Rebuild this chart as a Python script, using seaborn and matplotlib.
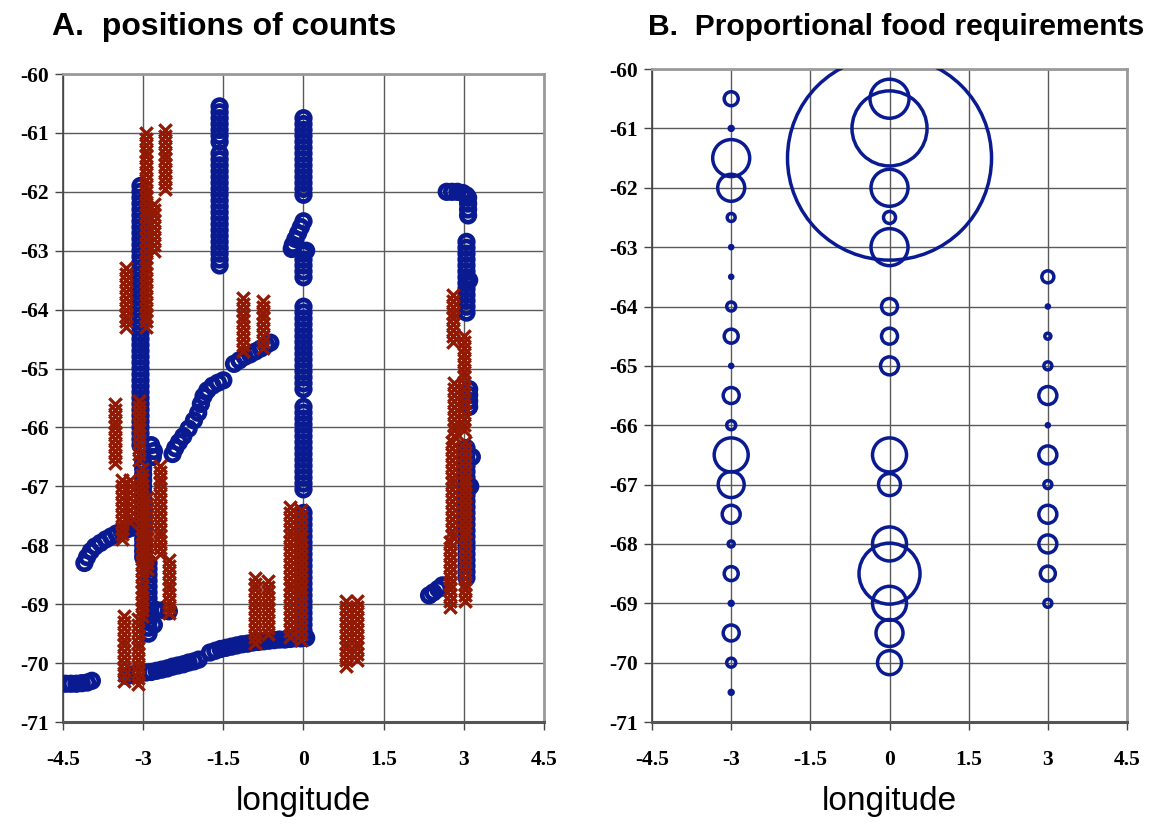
import matplotlib
matplotlib.use("Agg")
import matplotlib.pyplot as plt
import pandas as pd
import seaborn as sns

# ---------------- Panel A data: positions of counts ----------------
# blue open circles: vertical runs of the ship track (longitude, latitudes)
blue_col_lon = [-1.57, -1.57, 0.0, 0.0, 0.0, 0.0, 0.0, -3.05, -3.0, -2.9, 3.05, 3.1, 3.05, 3.08]
blue_col_lat = [
    [-60.55, -60.65, -60.75, -60.85, -60.95, -61.05, -61.15],
    [-61.35, -61.45, -61.55, -61.65, -61.75, -61.85, -61.95, -62.05, -62.15, -62.25, -62.35, -62.45,
     -62.55, -62.65, -62.75, -62.85, -62.95, -63.05, -63.15, -63.25],
    [-60.75, -60.85, -60.95, -61.05, -61.15, -61.25, -61.35, -61.45, -61.55, -61.65, -61.75, -61.85,
     -61.95, -62.05],
    [-63.05, -63.15, -63.25, -63.35, -63.45],
    [-63.95, -64.05, -64.15, -64.25, -64.35, -64.45, -64.55, -64.65, -64.75, -64.85, -64.95, -65.05,
     -65.15, -65.25, -65.35],
    [-65.65, -65.75, -65.85, -65.95, -66.05, -66.15, -66.25, -66.35, -66.45, -66.55, -66.65, -66.75,
     -66.85, -66.95, -67.05],
    [-67.45, -67.55, -67.65, -67.75, -67.85, -67.95, -68.05, -68.15, -68.25, -68.35, -68.45, -68.55,
     -68.65, -68.75, -68.85, -68.95, -69.05, -69.15, -69.25, -69.35, -69.45, -69.55],
    [-61.9, -62.0, -62.1, -62.2, -62.3, -62.4, -62.5, -62.6, -62.7, -62.8, -62.9, -63.0, -63.1, -63.2,
     -63.3, -63.4, -63.5, -63.6, -63.7, -63.8, -63.9, -64.0, -64.1, -64.2, -64.3, -64.4, -64.5, -64.6,
     -64.7, -64.8, -64.9, -65.0, -65.1, -65.2, -65.3, -65.4, -65.5, -65.6, -65.7, -65.8, -65.9, -66.0,
     -66.1, -66.2, -66.3],
    [-66.6, -66.7, -66.8, -66.9, -67.0, -67.1, -67.2, -67.3, -67.4, -67.5, -67.6, -67.7, -67.8, -67.9,
     -68.0, -68.1, -68.2],
    [-68.3, -68.4, -68.5, -68.6, -68.7, -68.8, -68.9, -69.0, -69.1, -69.2, -69.3, -69.4, -69.5],
    [-62.85, -62.95, -63.05, -63.15, -63.25, -63.35, -63.45, -63.55, -63.65, -63.75, -63.85, -63.95,
     -64.05],
    [-65.35, -65.45, -65.55, -65.65],
    [-66.35, -66.45, -66.55, -66.65, -66.75, -66.85, -66.95, -67.05, -67.15, -67.25, -67.35, -67.45,
     -67.55, -67.65, -67.75, -67.85, -67.95, -68.05, -68.15, -68.25, -68.35, -68.45, -68.55],
    [-62.1, -62.2, -62.3, -62.4],
]

# blue open circles: slanted parts of the track
blue_trk_lon = [
    0.0, -0.05, -0.1, -0.15, -0.2, -0.22, 0.05,
    -2.85, -2.8, -2.82,
    -2.75, -2.62, -2.52, -2.8,
    -4.1, -4.05, -3.98, -3.9, -3.8, -3.7, -3.6, -3.5, -3.4, -3.3, -3.2, -3.1,
    -2.45, -2.4, -2.33, -2.25, -2.15, -2.05, -1.97, -1.92, -1.87, -1.8, -1.7, -1.6, -1.5,
    -1.3, -1.2, -1.1, -1.0, -0.9, -0.8, -0.7, -0.62,
    -4.45, -4.35, -4.25, -4.15, -4.05, -3.96,
    -3.3, -3.2, -3.1, -2.95, -2.85, -2.75, -2.65, -2.55, -2.45, -2.35, -2.25, -2.15, -2.05, -1.96,
    -1.75, -1.65, -1.55, -1.45, -1.35, -1.25, -1.15, -1.05, -0.95, -0.85, -0.75, -0.65, -0.55, -0.45,
    -0.35, -0.25, -0.15, -0.05, 0.05,
    2.68, 2.78, 2.88, 2.98, 3.05,
    3.1, 3.15, 3.12,
    2.35, 2.43, 2.52, 2.6,
]
blue_trk_lat = [
    -62.5, -62.6, -62.7, -62.8, -62.9, -62.97, -63.0,
    -66.3, -66.4, -66.5,
    -69.1, -69.1, -69.12, -69.35,
    -68.3, -68.2, -68.1, -68.02, -67.96, -67.9, -67.85, -67.8, -67.76, -67.73, -67.7, -67.68,
    -66.45, -66.35, -66.25, -66.15, -66.02, -65.88, -65.75, -65.6, -65.47, -65.37, -65.29, -65.24, -65.2,
    -64.92, -64.86, -64.8, -64.76, -64.71, -64.66, -64.6, -64.56,
    -70.35, -70.35, -70.35, -70.34, -70.33, -70.3,
    -70.22, -70.2, -70.18, -70.16, -70.15, -70.13, -70.11, -70.09, -70.06, -70.04, -70.02, -69.99,
    -69.97, -69.94,
    -69.82, -69.79, -69.76, -69.74, -69.72, -69.7, -69.68, -69.67, -69.65, -69.64, -69.63, -69.62,
    -69.61, -69.6, -69.6, -69.59, -69.58, -69.58, -69.57,
    -62.0, -62.0, -62.0, -62.02, -62.06,
    -63.5, -66.5, -67.0,
    -68.85, -68.8, -68.74, -68.68,
]

# red crosses: counting stations along meridional runs (longitude, latitudes)
red_col_lon = [-2.95, -2.6, -2.8, -3.32, -1.14, -0.75, -3.53, -3.08, -3.4, -3.25, -3.02, -2.92,
               -2.69, -2.52, -3.35, -3.1, -0.9, -0.67, -0.26, -0.04, 0.8, 1.0, 2.8, 3.0, 2.82,
               2.78, 3.02, 2.75]
red_col_lat = [
    [-61.0, -61.1, -61.2, -61.3, -61.4, -61.5, -61.6, -61.7, -61.8, -61.9, -62.0, -62.1, -62.2, -62.3,
     -62.4, -62.5, -62.6, -62.7, -62.8, -62.9, -63.0, -63.1, -63.2, -63.3, -63.4, -63.5, -63.6, -63.7,
     -63.8, -63.9, -64.0, -64.1, -64.2, -64.3],
    [-60.95, -61.05, -61.15, -61.25, -61.35, -61.45, -61.55, -61.65, -61.75, -61.85, -61.95],
    [-62.2, -62.3, -62.4, -62.5, -62.6, -62.7, -62.8, -62.9, -63.0],
    [-63.3, -63.4, -63.5, -63.6, -63.7, -63.8, -63.9, -64.0, -64.1, -64.2, -64.3],
    [-63.8, -63.9, -64.0, -64.1, -64.2, -64.3, -64.4, -64.5, -64.6, -64.7],
    [-63.85, -63.95, -64.05, -64.15, -64.25, -64.35, -64.45, -64.55, -64.65],
    [-65.6, -65.7, -65.8, -65.9, -66.0, -66.1, -66.2, -66.3, -66.4, -66.5, -66.6],
    [-65.55, -65.65, -65.75, -65.85, -65.95, -66.05, -66.15, -66.25, -66.35, -66.45, -66.55],
    [-66.9, -67.0, -67.1, -67.2, -67.3, -67.4, -67.5, -67.6, -67.7, -67.8, -67.9],
    [-66.9, -67.0, -67.1, -67.2, -67.3, -67.4, -67.5, -67.6],
    [-66.7, -66.8, -66.9, -67.0, -67.1, -67.2, -67.3, -67.4, -67.5, -67.6, -67.7, -67.8, -67.9, -68.0,
     -68.1, -68.2, -68.3, -68.4, -68.5, -68.6, -68.7, -68.8, -68.9, -69.0, -69.1, -69.2],
    [-67.2, -67.3, -67.4, -67.5, -67.6, -67.7, -67.8, -67.9, -68.0, -68.1, -68.2, -68.3, -68.4],
    [-66.65, -66.75, -66.85, -66.95, -67.05, -67.15, -67.25, -67.35, -67.45, -67.55, -67.65, -67.75,
     -67.85, -67.95, -68.05, -68.15],
    [-68.25, -68.35, -68.45, -68.55, -68.65, -68.75, -68.85, -68.95, -69.05, -69.15],
    [-69.2, -69.3, -69.4, -69.5, -69.6, -69.7, -69.8, -69.9, -70.0, -70.1, -70.2, -70.3],
    [-69.25, -69.35, -69.45, -69.55, -69.65, -69.75, -69.85, -69.95, -70.05, -70.15, -70.25, -70.35],
    [-68.55, -68.65, -68.75, -68.85, -68.95, -69.05, -69.15, -69.25, -69.35, -69.45, -69.55, -69.65],
    [-68.6, -68.7, -68.8, -68.9, -69.0, -69.1, -69.2, -69.3, -69.4, -69.5],
    [-67.35, -67.45, -67.55, -67.65, -67.75, -67.85, -67.95, -68.05, -68.15, -68.25, -68.35, -68.45,
     -68.55, -68.65, -68.75, -68.85, -68.95, -69.05, -69.15, -69.25, -69.35, -69.45, -69.55],
    [-67.4, -67.5, -67.6, -67.7, -67.8, -67.9, -68.0, -68.1, -68.2, -68.3, -68.4, -68.5, -68.6, -68.7,
     -68.8, -68.9, -69.0, -69.1, -69.2, -69.3, -69.4, -69.5, -69.6],
    [-68.95, -69.05, -69.15, -69.25, -69.35, -69.45, -69.55, -69.65, -69.75, -69.85, -69.95, -70.05],
    [-68.95, -69.05, -69.15, -69.25, -69.35, -69.45, -69.55, -69.65, -69.75, -69.85, -69.95],
    [-63.75, -63.85, -63.95, -64.05, -64.15, -64.25, -64.35, -64.45, -64.55],
    [-64.45, -64.55, -64.65, -64.75, -64.85, -64.95, -65.05, -65.15, -65.25, -65.35, -65.45, -65.55,
     -65.65, -65.75, -65.85, -65.95, -66.05],
    [-65.25, -65.35, -65.45, -65.55, -65.65, -65.75, -65.85, -65.95, -66.05, -66.15],
    [-66.25, -66.35, -66.45, -66.55, -66.65, -66.75, -66.85, -66.95, -67.05, -67.15, -67.25, -67.35,
     -67.45, -67.55, -67.65, -67.75, -67.85],
    [-66.25, -66.35, -66.45, -66.55, -66.65, -66.75, -66.85, -66.95, -67.05, -67.15, -67.25, -67.35,
     -67.45, -67.55, -67.65, -67.75, -67.85, -67.95, -68.05, -68.15, -68.25, -68.35, -68.45, -68.55,
     -68.65, -68.75, -68.85, -68.95],
    [-67.95, -68.05, -68.15, -68.25, -68.35, -68.45, -68.55, -68.65, -68.75, -68.85, -68.95, -69.05],
]

# ---------------- Panel B data: proportional food requirements ----------------
food_m3_lat = [-60.5, -61.0, -61.5, -62.0, -62.5, -63.0, -63.5, -64.0, -64.5, -65.0, -65.5, -66.0,
               -66.5, -67.0, -67.5, -68.0, -68.5, -69.0, -69.5, -70.0, -70.5]
food_m3_val = [1.02, 0.08, 7.1, 3.78, 0.33, 0.05, 0.05, 0.42, 1.02, 0.05, 1.33, 0.42,
               6.0, 3.5, 1.68, 0.19, 1.02, 0.08, 1.33, 0.42, 0.08]
food_0_lat = [-60.5, -61.0, -61.5, -62.0, -62.5, -63.0, -64.0, -64.5, -65.0, -66.5, -67.0, -68.0,
              -68.5, -69.0, -69.5, -70.0]
food_0_val = [7.9, 29.2, 215.8, 7.1, 0.75, 7.1, 1.33, 1.33, 1.68, 6.0, 2.51, 6.0,
              19.3, 6.0, 3.78, 2.99]
food_p3_lat = [-63.5, -64.0, -64.5, -65.0, -65.5, -66.0, -66.5, -67.0, -67.5, -68.0, -68.5, -69.0]
food_p3_val = [0.75, 0.05, 0.19, 0.33, 1.68, 0.05, 1.68, 0.33, 1.68, 1.68, 1.17, 0.33]

x_ticks = [-4.5, -3, -1.5, 0, 1.5, 3, 4.5]
x_tick_labels = ["-4.5", "-3", "-1.5", "0", "1.5", "3", "4.5"]
y_ticks = [-71, -70, -69, -68, -67, -66, -65, -64, -63, -62, -61, -60]
y_tick_labels = ["-71", "-70", "-69", "-68", "-67", "-66", "-65", "-64", "-63", "-62", "-61", "-60"]

# ---------------- build tables ----------------
rows = []
for lon, lats in zip(blue_col_lon, blue_col_lat):
    rows += [(lon, la) for la in lats]
rows += list(zip(blue_trk_lon, blue_trk_lat))
blue_df = pd.DataFrame(rows, columns=["longitude", "latitude"])

rows = []
for lon, lats in zip(red_col_lon, red_col_lat):
    rows += [(lon, la) for la in lats]
red_df = pd.DataFrame(rows, columns=["longitude", "latitude"])

food_df = pd.concat([
    pd.DataFrame({"longitude": -3.0, "latitude": food_m3_lat, "food": food_m3_val}),
    pd.DataFrame({"longitude": 0.0, "latitude": food_0_lat, "food": food_0_val}),
    pd.DataFrame({"longitude": 3.0, "latitude": food_p3_lat, "food": food_p3_val}),
], ignore_index=True)

# ---------------- style ----------------
sns.set_style("white")
plt.rcParams["font.family"] = ["Liberation Sans", "DejaVu Sans"]
plt.rcParams["text.color"] = "black"

BLUE = "#0a1b92"
RED = "#921a04"
GRID = "#5a5a5a"

fig = plt.figure(figsize=(11.52, 8.25), dpi=100)
axA = fig.add_axes([0.0547, 0.1248, 0.4175, 0.7855])
axB = fig.add_axes([0.566, 0.1248, 0.4123, 0.7915])

sns.scatterplot(data=blue_df, x="longitude", y="latitude", ax=axA, marker="o", s=95,
                color=BLUE, facecolors="none", edgecolor=BLUE, linewidth=3.4,
                legend=False, zorder=3)
sns.scatterplot(data=red_df, x="longitude", y="latitude", ax=axA, marker="x", s=80,
                color=RED, linewidth=2.4, legend=False, zorder=4)

sns.scatterplot(data=food_df, x="longitude", y="latitude", size="food", ax=axB,
                sizes=(0, 21580), size_norm=(0, 215.8), marker="o",
                color=BLUE, facecolors="none", edgecolor=BLUE, linewidth=2.5,
                legend=False, zorder=3)

for ax in (axA, axB):
    ax.set_xlim(-4.5, 4.5)
    ax.set_ylim(-71, -60)
    ax.set_xticks(x_ticks)
    ax.set_xticklabels(x_tick_labels)
    ax.set_yticks(y_ticks)
    ax.set_yticklabels(y_tick_labels)
    ax.grid(True, color=GRID, linewidth=1.0)
    ax.set_axisbelow(True)
    ax.tick_params(axis="both", which="major", direction="out", length=6, width=1.0,
                   color="#444444", left=True, bottom=True, labelcolor="black")
    ax.tick_params(axis="x", pad=14)
    ax.tick_params(axis="y", pad=4)
    for lab in ax.get_xticklabels() + ax.get_yticklabels():
        lab.set_fontfamily("Liberation Serif")
        lab.set_fontweight("bold")
        lab.set_fontsize(15.5)
    ax.spines["left"].set_color("#444444")
    ax.spines["left"].set_linewidth(1.2)
    ax.spines["bottom"].set_color("#555555")
    ax.spines["bottom"].set_linewidth(2.2)
    ax.spines["top"].set_color("#9a9a9a")
    ax.spines["top"].set_linewidth(2.0)
    ax.spines["right"].set_color("#9a9a9a")
    ax.spines["right"].set_linewidth(2.0)
    ax.set_ylabel("")
    ax.set_xlabel("longitude", fontsize=24, labelpad=12, color="black")

fig.text(0.045, 0.967, "A.  positions of counts", fontsize=23, fontweight="bold",
         va="center", ha="left", color="black")
fig.text(0.5625, 0.967, "B.  Proportional food requirements", fontsize=21.6, fontweight="bold",
         va="center", ha="left", color="black")

fig.savefig("out.png", dpi=100)
